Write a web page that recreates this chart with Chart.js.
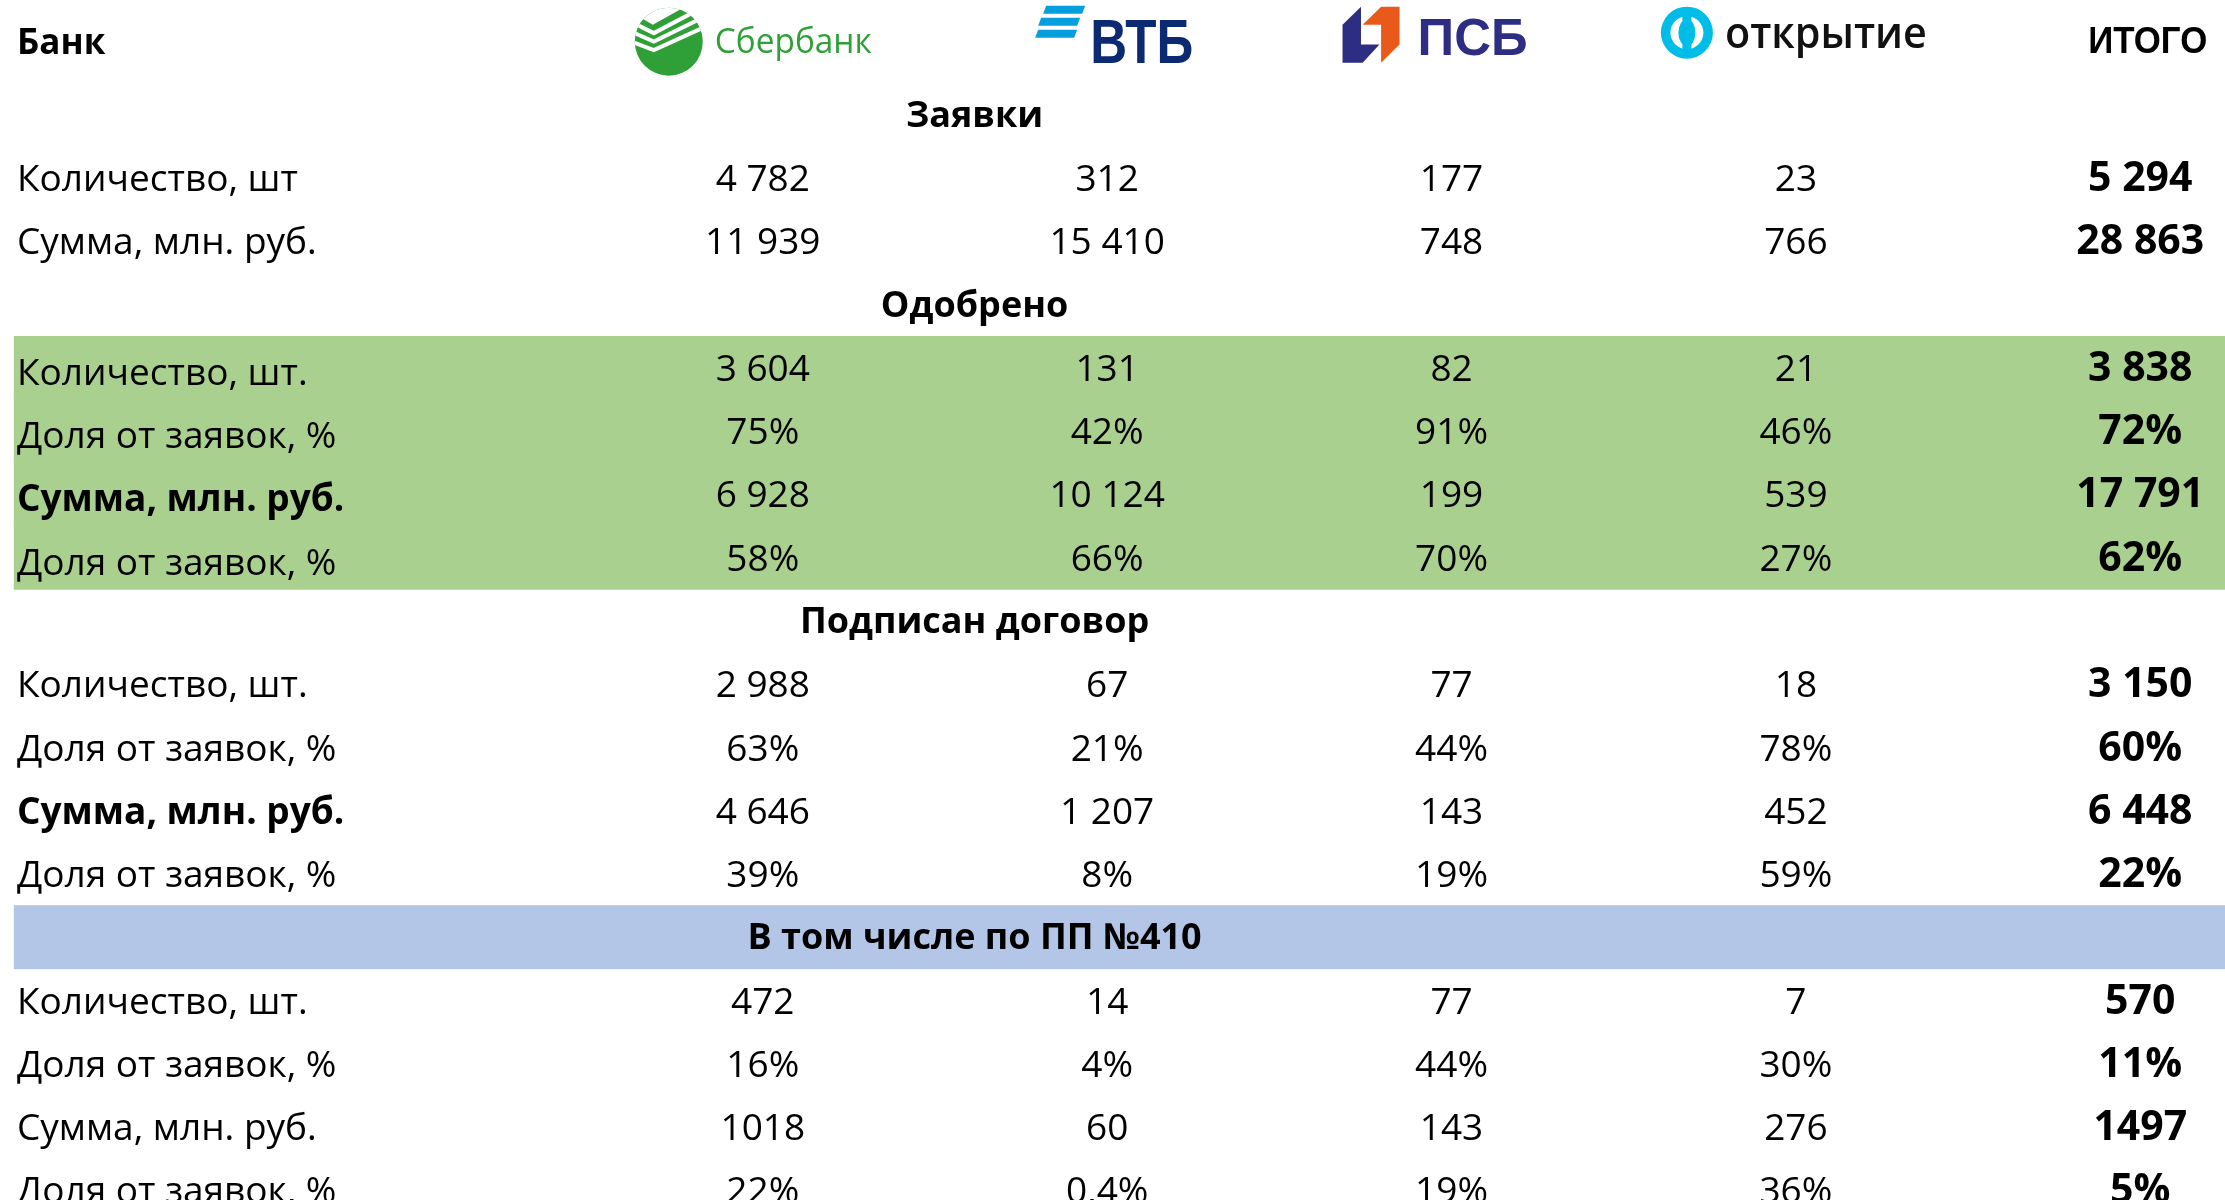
<!DOCTYPE html>
<html>
<head>
<meta charset="utf-8">
<title>Заявки по банкам</title>
<script src="https://cdn.jsdelivr.net/npm/chart.js@4.4.1/dist/chart.umd.min.js"></script>
<style>
    html, body { margin: 0; padding: 0; background: #ffffff; overflow: hidden; }
    #wrap { width: 2225px; height: 1200px; overflow: hidden; }
</style>
</head>
<body>
<div id="wrap"><canvas id="tbl" width="2225" height="1222"></canvas></div>
<script>
// названия колонок
var cornerTitle = 'Банк';
var banks = ['Сбербанк', 'ВТБ', 'ПСБ', 'открытие'];
var totalTitle = 'ИТОГО';
var sections = ['Заявки', 'Одобрено', 'Подписан договор', 'В том числе по ПП №410'];

var labelCountFirst = 'Количество, шт';
var labelCount = 'Количество, шт.';
var labelSum = 'Сумма, млн. руб.';
var labelShare = 'Доля от заявок, %';

// значения: Сбербанк, ВТБ, ПСБ, Открытие, ИТОГО
var applCount = [4782, 312, 177, 23, 5294];
var applSum = [11939, 15410, 748, 766, 28863];

var apprCount = [3604, 131, 82, 21, 3838];
var apprCountShare = [75, 42, 91, 46, 72];
var apprSum = [6928, 10124, 199, 539, 17791];
var apprSumShare = [58, 66, 70, 27, 62];

var signCount = [2988, 67, 77, 18, 3150];
var signCountShare = [63, 21, 44, 78, 60];
var signSum = [4646, 1207, 143, 452, 6448];
var signSumShare = [39, 8, 19, 59, 22];

var ppCount = [472, 14, 77, 7, 570];
var ppCountShare = [16, 4, 44, 30, 11];
var ppSum = [1018, 60, 143, 276, 1497];
var ppSumShare = [22, 0.4, 19, 36, 5];

// строки таблицы
var rows = [
    { kind: 'head' },
    { kind: 'section', text: sections[0] },
    { label: labelCountFirst, values: applCount, fmt: 'int' },
    { label: labelSum, values: applSum, fmt: 'int' },
    { kind: 'section', text: sections[1] },
    { label: labelCount, values: apprCount, fmt: 'int', band: 'green' },
    { label: labelShare, values: apprCountShare, fmt: 'pct', band: 'green' },
    { label: labelSum, values: apprSum, fmt: 'int', band: 'green', bold: true },
    { label: labelShare, values: apprSumShare, fmt: 'pct', band: 'green' },
    { kind: 'section', text: sections[2] },
    { label: labelCount, values: signCount, fmt: 'int' },
    { label: labelShare, values: signCountShare, fmt: 'pct' },
    { label: labelSum, values: signSum, fmt: 'int', bold: true },
    { label: labelShare, values: signSumShare, fmt: 'pct' },
    { kind: 'section', text: sections[3], band: 'blue' },
    { label: labelCount, values: ppCount, fmt: 'int' },
    { label: labelShare, values: ppCountShare, fmt: 'pct' },
    { label: labelSum, values: ppSum, fmt: 'plain' },
    { label: labelShare, values: ppSumShare, fmt: 'pct' }
];

// горизонтальная шкала: колонки 1..5, слева колонка подписей
var xMin = -1.215;
var xMax = 5.246;
var bandFrom = -1.174;
var headingCol = 1.615;

var FONT = '"Open Sans", "Noto Sans", sans-serif';
var LOGO_FONT = '"Liberation Sans", Arial, sans-serif';

function formatValue(v, kind) {
    if (kind === 'pct') return String(v).replace('.', ',') + '%';
    if (kind === 'plain') return String(v);
    return String(v).replace(/\B(?=(\d{3})+(?!\d))/g, ' ');
}

// текст, сжатый по ширине
function fitText(c, txt, x, base, width) {
    var w = c.measureText(txt).width;
    c.save();
    c.translate(x, base);
    c.scale(width / w, 1);
    c.textAlign = 'left';
    c.fillText(txt, 0, 0);
    c.restore();
}

function drawSber(c, cx, y0) {
    var ix = cx - 94, iy = y0 + 2, r = 34;
    c.save();
    c.beginPath();
    c.arc(ix, iy, r, 0, Math.PI * 2);
    c.fillStyle = '#2f9f38';
    c.fill();
    c.clip();
    // белый угол сверху
    c.fillStyle = '#ffffff';
    c.beginPath();
    c.moveTo(ix - 40, iy - 31);
    c.lineTo(ix - 16, iy - 17);
    c.lineTo(ix + 40, iy - 48);
    c.lineTo(ix + 40, iy - 60);
    c.lineTo(ix - 40, iy - 60);
    c.closePath();
    c.fill();
    // полоски-галочки
    c.strokeStyle = '#ffffff';
    c.lineWidth = 4;
    for (var k = 1; k < 4; k++) {
        c.beginPath();
        c.moveTo(ix - 40, iy - 31 + 10 * k);
        c.lineTo(ix - 15, iy - 17 + 8.5 * k);
        c.lineTo(ix + 40, iy - 48 + 10.5 * k);
        c.stroke();
    }
    c.restore();
    c.fillStyle = '#2f9f38';
    c.font = '35px ' + FONT;
    fitText(c, banks[0], cx - 48, y0 + 13, 157);
}

function drawVtb(c, cx, y0) {
    c.fillStyle = '#049fdc';
    var bars = [[-64, -34], [-69, -22], [-72, -10]];
    bars.forEach(function (b) {
        var x = cx + b[0], y = y0 + b[1];
        c.beginPath();
        c.moveTo(x + 3, y);
        c.lineTo(x + 42, y);
        c.lineTo(x + 39, y + 8);
        c.lineTo(x, y + 8);
        c.closePath();
        c.fill();
    });
    c.fillStyle = '#0b2a72';
    c.font = 'bold 63px ' + LOGO_FONT;
    fitText(c, banks[1], cx - 17, y0 + 23, 103);
}

function drawPsb(c, cx, y0) {
    var ox = cx - 109, oy = y0 - 33, sx = 57 / 170, sy = 56 / 170;
    var blue = [[0, 55], [55, 0], [55, 115], [110, 115], [60, 170], [0, 170]];
    var orange = [[115, 0], [170, 0], [170, 115], [115, 170], [115, 55], [60, 55]];
    [[blue, '#2e2d84'], [orange, '#e95a1a']].forEach(function (s) {
        c.beginPath();
        s[0].forEach(function (p, i) {
            var px = ox + p[0] * sx, py = oy + p[1] * sy;
            if (i === 0) c.moveTo(px, py); else c.lineTo(px, py);
        });
        c.closePath();
        c.fillStyle = s[1];
        c.fill();
    });
    c.fillStyle = '#2e2d84';
    c.font = 'bold 52px ' + LOGO_FONT;
    fitText(c, banks[2], cx - 34, y0 + 15, 110);
}

function drawOtkr(c, cx, y0) {
    var ix = cx - 109, iy = y0 - 7;
    c.fillStyle = '#00bde8';
    c.beginPath();
    c.arc(ix, iy, 26, 0, Math.PI * 2);
    c.fill();
    c.fillStyle = '#ffffff';
    c.beginPath();
    c.arc(ix, iy, 16.5, 0, Math.PI * 2);
    c.fill();
    c.fillStyle = '#00bde8';
    c.beginPath();
    c.ellipse(ix, iy, 8.5, 13.5, 0, 0, Math.PI * 2);
    c.fill();
    c.fillRect(ix - 4.5, iy - 20, 9, 40);
    c.fillStyle = '#111111';
    c.font = '600 43px ' + FONT;
    fitText(c, banks[3], cx - 71, y0 + 8, 202);
}

function drawHeader(c, xs, left, y0) {
    c.fillStyle = '#000000';
    c.font = 'bold 35px ' + FONT;
    c.textAlign = 'left';
    c.fillText(cornerTitle, left, y0 + 14);
    drawSber(c, xs.getPixelForValue(1), y0);
    drawVtb(c, xs.getPixelForValue(2), y0);
    drawPsb(c, xs.getPixelForValue(3), y0);
    drawOtkr(c, xs.getPixelForValue(4), y0);
    c.fillStyle = '#000000';
    c.font = 'bold 36px ' + LOGO_FONT;
    fitText(c, totalTitle, xs.getPixelForValue(5) - 52, y0 + 13, 119);
}

// подписи и числа рисуются по шкалам графика
var tableText = {
    id: 'tableText',
    afterDatasetsDraw: function (chart) {
        var c = chart.ctx;
        var xs = chart.scales.x;
        var ys = chart.scales.y;
        var left = chart.chartArea.left + 17;
        c.save();
        c.textBaseline = 'alphabetic';
        rows.forEach(function (r, i) {
            var y = ys.getPixelForValue(i);
            if (r.kind === 'head') {
                drawHeader(c, xs, left, y - 12);
                return;
            }
            c.fillStyle = '#000000';
            if (r.kind === 'section') {
                c.font = 'bold 36px ' + FONT;
                c.textAlign = 'center';
                c.fillText(r.text, xs.getPixelForValue(headingCol), y + 12);
                return;
            }
            var base = y + 13;
            c.font = (r.bold ? 'bold ' : '') + '37px ' + FONT;
            c.textAlign = 'left';
            c.fillText(r.label, left, base + (r.band === 'green' ? 4 : 0));
            r.values.forEach(function (v, k) {
                c.textAlign = 'center';
                c.font = (k === 4 ? 'bold 41px ' : '37px ') + FONT;
                c.fillText(formatValue(v, r.fmt), xs.getPixelForValue(k + 1), base);
            });
        });
        c.restore();
    }
};

function bandData(name) {
    return rows.map(function (r) {
        return r.band === name ? [bandFrom, xMax] : null;
    });
}

var ctx = document.getElementById('tbl').getContext('2d');
var chart = new Chart(ctx, {
    type: 'bar',
    data: {
        labels: rows.map(function (r) { return r.label || r.text || cornerTitle; }),
        datasets: [{
            data: bandData('green'),
            backgroundColor: '#a9d08e',
            categoryPercentage: 1,
            barPercentage: 1,
            borderWidth: 0,
            grouped: false
        }, {
            data: bandData('blue'),
            backgroundColor: '#b4c6e7',
            categoryPercentage: 1,
            barPercentage: 1,
            borderWidth: 0,
            grouped: false
        }]
    },
    options: {
        indexAxis: 'y',
        responsive: false,
        animation: false,
        devicePixelRatio: 1,
        layout: { padding: { top: 20, left: 0, right: 0, bottom: 0 } },
        plugins: {
            legend: { display: false },
            tooltip: { enabled: false },
            title: { display: false }
        },
        scales: {
            x: { type: 'linear', min: xMin, max: xMax, display: false },
            y: { type: 'category', offset: true, display: false }
        }
    },
    plugins: [tableText]
});
</script>
</body>
</html>
